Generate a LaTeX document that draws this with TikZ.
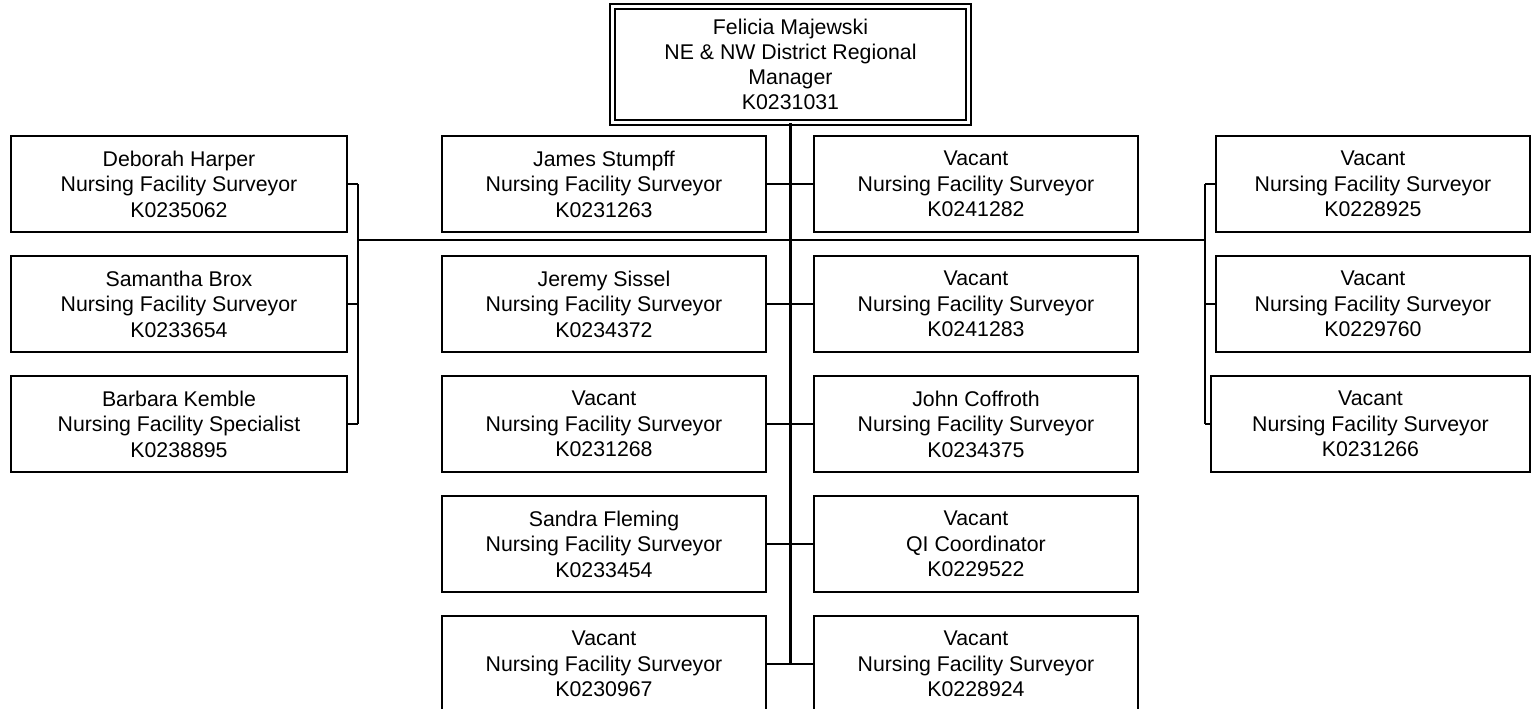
\documentclass[tikz,border=0pt]{standalone}
\usepackage{fontspec}
\setmainfont{Liberation Sans}
\begin{document}
\begin{tikzpicture}[x=1pt, y=-1pt,
  card/.style={draw, line width=1.4pt, rectangle, inner sep=0pt,
    minimum height=96pt, align=center,
    font=\fontsize{21.3}{25.5}\selectfont},
  cardL/.style={card, minimum width=336pt},
  cardC/.style={card, minimum width=324pt},
  cardR/.style={card, minimum width=314pt},
  boss/.style={draw, line width=1.3pt, double, double distance=3.6pt,
    rectangle, inner sep=0pt, minimum width=356pt, minimum height=116pt,
    align=center, font=\fontsize{21.3}{25}\selectfont},
  trunk/.style={line width=2.6pt},
  stub/.style={line width=1.4pt}]
\useasboundingbox[fill=white] (0,0) rectangle (1532,709);

% regional manager
\node[boss] (top) at (790.5,64.5)
  {Felicia Majewski\\NE \& NW District Regional\\Manager\\K0231031};

% left column
\node[cardL] (L1) at (179,184) {Deborah Harper\\Nursing Facility Surveyor\\K0235062};
\node[cardL] (L2) at (179,304) {Samantha Brox\\Nursing Facility Surveyor\\K0233654};
\node[cardL] (L3) at (179,424) {Barbara Kemble\\Nursing Facility Specialist\\K0238895};

% centre-left column
\node[cardC] (CL1) at (604,184) {James Stumpff\\Nursing Facility Surveyor\\K0231263};
\node[cardC] (CL2) at (604,304) {Jeremy Sissel\\Nursing Facility Surveyor\\K0234372};
\node[cardC] (CL3) at (604,424) {Vacant\\Nursing Facility Surveyor\\K0231268};
\node[cardC] (CL4) at (604,544) {Sandra Fleming\\Nursing Facility Surveyor\\K0233454};
\node[cardC] (CL5) at (604,664) {Vacant\\Nursing Facility Surveyor\\K0230967};

% centre-right column
\node[cardC] (CR1) at (976,184) {Vacant\\Nursing Facility Surveyor\\K0241282};
\node[cardC] (CR2) at (976,304) {Vacant\\Nursing Facility Surveyor\\K0241283};
\node[cardC] (CR3) at (976,424) {John Coffroth\\Nursing Facility Surveyor\\K0234375};
\node[cardC] (CR4) at (976,544) {Vacant\\QI Coordinator\\K0229522};
\node[cardC] (CR5) at (976,664) {Vacant\\Nursing Facility Surveyor\\K0228924};

% right column
\node[cardR] (R1) at (1373,184) {Vacant\\Nursing Facility Surveyor\\K0228925};
\node[cardR] (R2) at (1373,304) {Vacant\\Nursing Facility Surveyor\\K0229760};
\node[cardR, minimum width=319pt] (R3) at (1370.5,424) {Vacant\\Nursing Facility Surveyor\\K0231266};

% bracket joints
\coordinate (lb) at (358,240);
\coordinate (rb) at (1205,240);

% trunk and main branch
\draw[trunk] (top.south) -- (top.south |- CL5.east);
\draw[trunk] (lb) -- (rb);

% left bracket
\draw[stub] (L1.east -| lb) -- (L3.east -| lb);
\foreach \n in {L1,L2,L3} \draw[stub] (\n.east) -- (\n.east -| lb);

% right bracket
\draw[stub] (R1.west -| rb) -- (R3.west -| rb);
\foreach \n in {R1,R2,R3} \draw[stub] (\n.west) -- (\n.west -| rb);

% centre pairs
\foreach \i in {1,...,5} \draw[stub] (CL\i.east) -- (CR\i.west);
\end{tikzpicture}
\end{document}
